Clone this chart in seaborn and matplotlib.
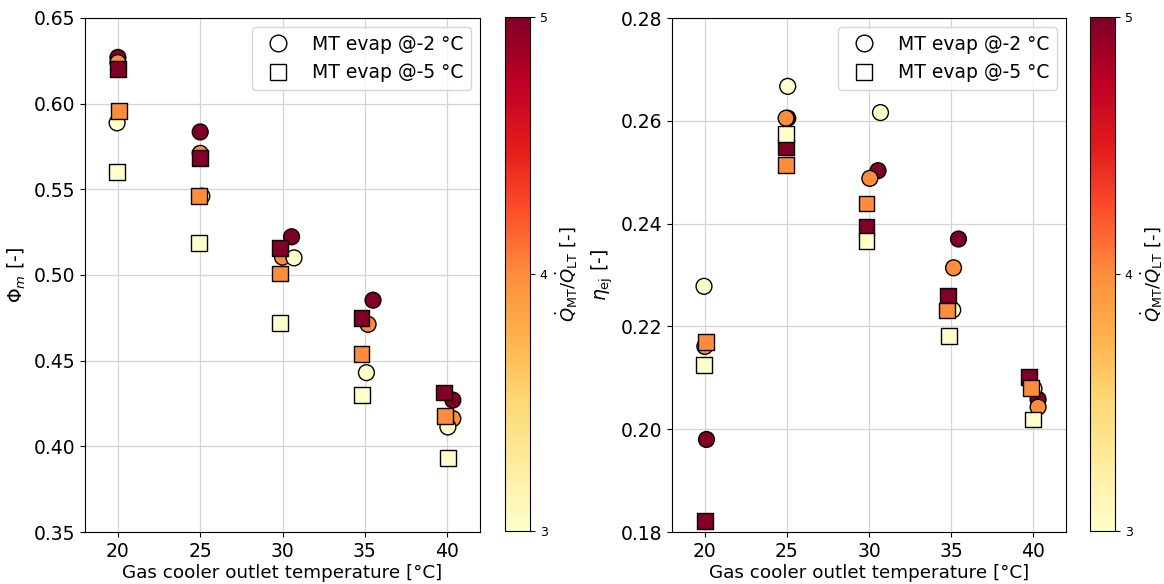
import numpy as np
import pandas as pd
import matplotlib
matplotlib.use("Agg")
import matplotlib.pyplot as plt
import seaborn as sns
from matplotlib.lines import Line2D

# ---- data ----
ratios = [5, 4, 3]

# Left panel: Phi_m
phi_c_x = {5: [20.0, 25.0, 30.55, 35.5, 40.35],
           4: [20.0, 25.0, 30.0, 35.2, 40.35],
           3: [19.95, 25.1, 30.7, 35.1, 40.05]}
phi_c_y = {5: [0.627, 0.5835, 0.5223, 0.4853, 0.427],
           4: [0.624, 0.571, 0.5104, 0.4712, 0.4162],
           3: [0.5888, 0.546, 0.510, 0.443, 0.4113]}
phi_s_x = {5: [20.0, 25.0, 29.85, 34.8, 39.8],
           4: [20.05, 24.95, 29.85, 34.8, 39.85],
           3: [19.95, 24.95, 29.85, 34.85, 40.05]}
phi_s_y = {5: [0.6204, 0.5684, 0.516, 0.4747, 0.4314],
           4: [0.5955, 0.546, 0.5009, 0.454, 0.4177],
           3: [0.560, 0.5188, 0.4722, 0.430, 0.393]}

# Right panel: eta_ej
eta_c_x = {5: [20.1, 25.05, 30.55, 35.45, 40.3],
           4: [20.0, 24.95, 30.05, 35.15, 40.3],
           3: [19.95, 25.05, 30.7, 35.1, 40.05]}
eta_c_y = {5: [0.198, 0.2605, 0.2503, 0.2370, 0.2058],
           4: [0.2161, 0.2605, 0.2488, 0.2314, 0.2043],
           3: [0.2278, 0.2667, 0.2616, 0.2232, 0.2079]}
eta_s_x = {5: [20.0, 24.95, 29.85, 34.8, 39.75],
           4: [20.05, 24.95, 29.85, 34.75, 39.85],
           3: [19.95, 24.95, 29.85, 34.85, 40.0]}
eta_s_y = {5: [0.1822, 0.2548, 0.2394, 0.2260, 0.2101],
           4: [0.2169, 0.2514, 0.2439, 0.2231, 0.2080],
           3: [0.2125, 0.2574, 0.2366, 0.2181, 0.2019]}

legend_labels = ["MT evap @-2 °C", "MT evap @-5 °C"]
x_label = "Gas cooler outlet temperature [°C]"
y_labels = [r"$\mathit{\Phi}_m$ [-]", r"$\eta_{\rm ej}$ [-]"]
cbar_label = r"$\dot{Q}_{\rm MT}/\dot{Q}_{\rm LT}$ [-]"
x_ticks = [20, 25, 30, 35, 40]
left_yticks = [0.35, 0.40, 0.45, 0.50, 0.55, 0.60, 0.65]
right_yticks = [0.18, 0.20, 0.22, 0.24, 0.26, 0.28]
cbar_ticks = [3, 4, 5]


def to_df(xd, yd):
    rows = []
    for r in ratios:
        for x, y in zip(xd[r], yd[r]):
            rows.append({"T": x, "val": y, "ratio": r})
    return pd.DataFrame(rows)


plt.rcParams['font.family'] = ['DejaVu Sans']
fig = plt.figure(figsize=(11.64, 5.84), dpi=100)

W, H = 1164, 584
ax_l = fig.add_axes([85 / W, 1 - 532 / H, (480 - 85) / W, (532 - 18) / H])
cax_l = fig.add_axes([505 / W, 1 - 531 / H, 25 / W, (531 - 17) / H])
ax_r = fig.add_axes([672 / W, 1 - 532 / H, (1066 - 672) / W, (532 - 18) / H])
cax_r = fig.add_axes([1090 / W, 1 - 531 / H, 25 / W, (531 - 17) / H])

cmap = plt.get_cmap("YlOrRd")
norm = matplotlib.colors.Normalize(vmin=3, vmax=5)

panels = [
    (ax_l, cax_l, (phi_c_x, phi_c_y), (phi_s_x, phi_s_y), left_yticks, (0.35, 0.65), y_labels[0]),
    (ax_r, cax_r, (eta_c_x, eta_c_y), (eta_s_x, eta_s_y), right_yticks, (0.18, 0.28), y_labels[1]),
]

for ax, cax, circ, sq, yticks, ylim, ylab in panels:
    ax.set_axisbelow(True)
    ax.grid(True, color="#d4d4d4", linewidth=0.9)
    dfc = to_df(*circ)
    dfs = to_df(*sq)
    sns.scatterplot(data=dfc, x="T", y="val", hue="ratio", palette=cmap, hue_norm=norm,
                    marker="o", s=130, edgecolor="black", linewidth=1.0, legend=False, ax=ax,
                    zorder=3)
    sns.scatterplot(data=dfs, x="T", y="val", hue="ratio", palette=cmap, hue_norm=norm,
                    marker="s", s=130, edgecolor="black", linewidth=1.0, legend=False, ax=ax,
                    zorder=3)
    ax.set_xlim(18, 42)
    ax.set_ylim(*ylim)
    ax.set_xticks(x_ticks)
    ax.set_yticks(yticks)
    ax.set_yticklabels([f"{t:.2f}" for t in yticks])
    ax.tick_params(labelsize=13.5)
    ax.set_xlabel(x_label, fontsize=13.2, labelpad=2)
    ax.set_ylabel(ylab, fontsize=13.5)
    handles = [
        Line2D([], [], marker="o", linestyle="none", markerfacecolor="white",
               markeredgecolor="black", markersize=12, label=legend_labels[0]),
        Line2D([], [], marker="s", linestyle="none", markerfacecolor="white",
               markeredgecolor="black", markersize=12, label=legend_labels[1]),
    ]
    ax.legend(handles=handles, loc="upper right", fontsize=13.5, framealpha=0.8)

    sm = matplotlib.cm.ScalarMappable(norm=norm, cmap=cmap)
    sm.set_array([])
    cb = fig.colorbar(sm, cax=cax, ticks=cbar_ticks)
    cb.ax.tick_params(labelsize=9)
    cb.set_label(cbar_label, fontsize=13)

fig.savefig("out.png", dpi=100)
